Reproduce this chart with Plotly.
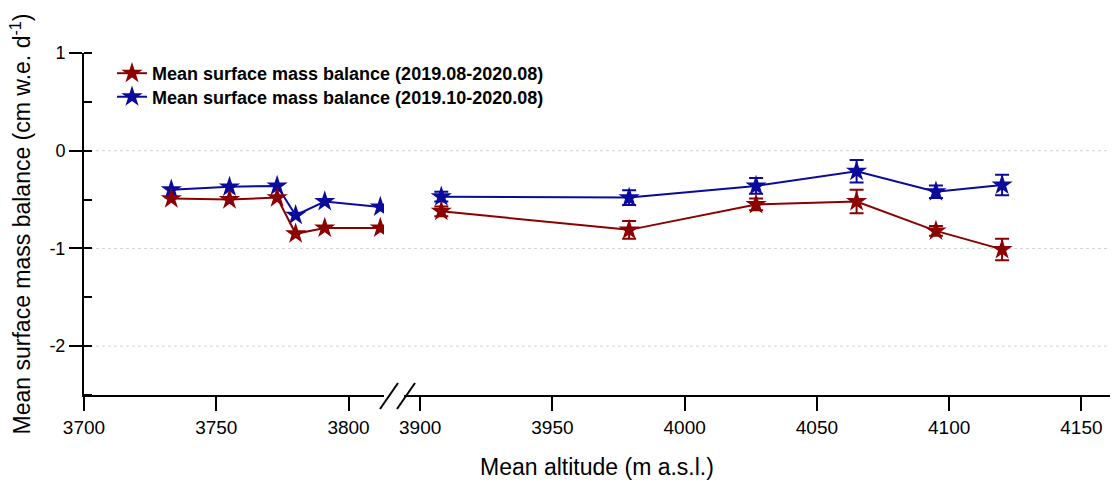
import plotly.graph_objects as go

# ---- data ----
alt_left = [3733, 3755, 3773, 3780, 3791, 3812]
alt_right = [3908, 3979, 4027, 4065, 4095, 4120]

red_name = "Mean surface mass balance (2019.08-2020.08)"
red_left = [-0.49, -0.50, -0.48, -0.85, -0.79, -0.79]
red_right = [-0.62, -0.81, -0.55, -0.52, -0.82, -1.01]
red_err_right = [0.05, 0.09, 0.06, 0.12, 0.05, 0.11]

blue_name = "Mean surface mass balance (2019.10-2020.08)"
blue_left = [-0.40, -0.37, -0.36, -0.66, -0.52, -0.575]
blue_right = [-0.47, -0.48, -0.36, -0.21, -0.42, -0.35]
blue_err_right = [0.05, 0.075, 0.08, 0.115, 0.065, 0.105]

y_tick_vals = [-2, -1, 0, 1]
y_tick_text = ["-2", "-1", "0", "1"]
grid_vals = [-2, -1, 0]
x_left_ticks = [3700, 3750, 3800]
x_right_ticks = [3900, 3950, 4000, 4050, 4100, 4150]

RED = "#8B0000"
BLUE = "#0A0A9C"
FONT = "Liberation Sans, Arial, sans-serif"

fig = go.Figure()


def add_series(xl, yl, xr, yr, er, color, name, legend_id):
    common = dict(
        mode="lines+markers",
        line=dict(color=color, width=2),
        marker=dict(symbol="star", size=16, color=color),
        legendgroup=name,
        name=name,
        legend=legend_id,
    )
    fig.add_trace(go.Scatter(x=xl, y=yl, xaxis="x", yaxis="y",
                             showlegend=True, **common))
    fig.add_trace(go.Scatter(x=xr, y=yr, xaxis="x2", yaxis="y",
                             showlegend=False,
                             error_y=dict(type="data", array=er, visible=True,
                                          color=color, thickness=2, width=7),
                             **common))


add_series(alt_left, blue_left, alt_right, blue_right, blue_err_right, BLUE, blue_name, "legend2")
add_series(alt_left, red_left, alt_right, red_right, red_err_right, RED, red_name, "legend")

L_PX, R_PX, T_PX, B_PX = 84, 1110, 53, 395
W, H = 1113, 483
pw = R_PX - L_PX
ph = B_PX - T_PX


def px2paper_x(px):
    return (px - L_PX) / pw


def px2paper_y(py):
    return (B_PX - py) / ph


left_dom = [0, px2paper_x(384)]
right_dom = [px2paper_x(404), 1]

axis_common = dict(
    showline=True, linecolor="black", linewidth=2,
    ticks="outside", ticklen=14, tickwidth=2, tickcolor="black",
    showgrid=False, zeroline=False, automargin=False,
    tickfont=dict(family=FONT, size=19, color="black"),
)

shapes = []
for g in grid_vals:
    shapes.append(dict(type="line", xref="paper", yref="y", x0=0, x1=1, y0=g, y1=g,
                       line=dict(color="#d3d3d3", width=1, dash="dot"), layer="below"))
# axis break marks
for cx in (389, 406):
    shapes.append(dict(type="line", xref="paper", yref="paper",
                       x0=px2paper_x(cx - 9), x1=px2paper_x(cx + 9),
                       y0=px2paper_y(409), y1=px2paper_y(383),
                       line=dict(color="black", width=2)))

legend_common = dict(xanchor="left", yanchor="middle",
                     bgcolor="rgba(0,0,0,0)", borderwidth=0,
                     font=dict(family=FONT, size=18, color="black", weight="bold"))

fig.update_layout(
    width=W, height=H,
    margin=dict(l=L_PX, r=W - R_PX, t=T_PX, b=H - B_PX, autoexpand=False),
    paper_bgcolor="white", plot_bgcolor="white",
    font=dict(family=FONT, color="black"),
    xaxis=dict(domain=left_dom, range=[3700, 3813.4], tickvals=x_left_ticks,
               anchor="y", **axis_common),
    xaxis2=dict(domain=right_dom, range=[3893.9, 4160.8], tickvals=x_right_ticks,
                anchor="y", **axis_common),
    yaxis=dict(range=[-2.5, 1], tickvals=y_tick_vals, ticktext=y_tick_text,
               showline=True, linecolor="black", linewidth=2,
               ticks="outside", ticklen=13, tickwidth=2, tickcolor="black",
               showgrid=False, zeroline=False, automargin=False,
               minor=dict(ticks="inside", dtick=0.5, ticklen=8, tickwidth=2,
                          tickcolor="black", showgrid=False),
               tickfont=dict(family=FONT, size=18, color="black"),
               title=dict(text="Mean surface mass balance (cm w.e. d<sup>-1</sup>)",
                          font=dict(family=FONT, size=23, color="black"),
                          standoff=12),
               anchor="x"),
    shapes=shapes,
    annotations=[dict(text="Mean altitude (m a.s.l.)", xref="paper", yref="paper",
                      x=0.5, y=px2paper_y(467), xanchor="center", yanchor="middle",
                      showarrow=False, font=dict(family=FONT, size=23, color="black"))],
    legend=dict(x=px2paper_x(112), y=px2paper_y(73.5), **legend_common),
    legend2=dict(x=px2paper_x(112), y=px2paper_y(97), **legend_common),
)

fig.write_html("out.html", config={"displayModeBar": False},
               post_script="document.body.style.margin='0';")
